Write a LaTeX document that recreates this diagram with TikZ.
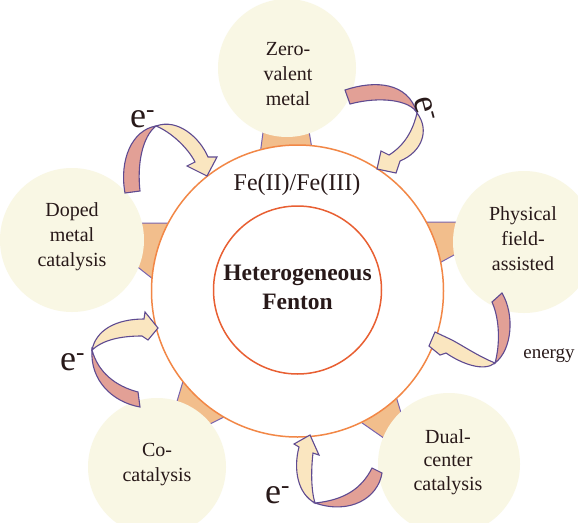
\documentclass[tikz,border=0pt]{standalone}
\usepackage{fontspec}
\setmainfont{Liberation Serif}
\definecolor{sat}{RGB}{249,247,228}
\definecolor{neck}{RGB}{242,190,140}
\definecolor{lav}{RGB}{120,100,175}
\definecolor{ring}{RGB}{242,135,70}
\definecolor{ringin}{RGB}{232,95,50}
\definecolor{apink}{RGB}{226,160,150}
\definecolor{ayel}{RGB}{250,230,192}
\definecolor{aline}{RGB}{95,75,145}
\definecolor{txt}{RGB}{40,25,25}
\begin{document}
\begin{tikzpicture}[x=1pt,y=-1pt,
 sattext/.style={align=center,text=txt,font=\fontsize{20}{25}\selectfont,inner sep=0},
 elabel/.style={text=txt,font=\fontsize{36}{36}\selectfont,inner sep=0,anchor=base west},
 necklines/.style={draw=lav,line width=1pt},
 satfill/.style={fill=sat},
 pinkpart/.style={fill=apink,draw=aline,line width=1.1pt},
 yelpart/.style={fill=ayel,draw=aline,line width=1.1pt}]
\useasboundingbox (0,0) rectangle (578,522);
\clip (0,0) rectangle (578,522);
\fill[white] (0,0) rectangle (578,522);

% necks
\fill[neck] (264,125) -- (308,125) -- (313,155) -- (260,155) -- cycle;
\draw[necklines] (264,125) -- (260,155) (308,125) -- (313,155);
\fill[neck] (135,223) -- (172,223) -- (158,283) -- (130,261) -- cycle;
\draw[necklines] (135,223) -- (172,223) (130,261) -- (158,283);
\fill[neck] (420,222) -- (462,222) -- (465,249) -- (432,267) -- cycle;
\draw[necklines] (420,222) -- (462,222) (432,267) -- (465,249);
\fill[neck] (184,378) -- (228,415) -- (206,426) -- (175,408) -- cycle;
\draw[necklines] (184,378) -- (175,408) (228,415) -- (206,426);
\fill[neck] (355,418) -- (395,393) -- (402,416) -- (388,441) -- cycle;
\draw[necklines] (355,418) -- (388,441) (395,393) -- (402,416);

% satellites
\fill[satfill] (287,68) circle[radius=69];
\fill[satfill] (72,240) circle[radius=72];
\fill[satfill] (524,242) circle[radius=71];
\fill[satfill] (157,467) circle[radius=69];
\fill[satfill] (449,464) circle[radius=71];

% rings
\draw[ring,line width=1.5pt,fill=white] (297.5,291) circle[radius=146];
\draw[ringin,line width=1.5pt] (297.5,290) circle[radius=84];

% texts
\node[sattext] (zero) at (288,74) {Zero-\\valent\\metal};
\node[sattext] (doped) at (72,237) {Doped\\metal\\catalysis};
\node[sattext] (phys) at (523,239) {Physical\\field-\\assisted};
\node[sattext] (co) at (157,465) {Co-\\catalysis};
\node[sattext,font=\fontsize{20}{23.5}\selectfont] (dual) at (448,462) {Dual-\\center\\catalysis};
\node[text=txt,font=\fontsize{24}{24}\selectfont,inner sep=0] (fe) at (297,185) {Fe(II)/Fe(III)};
\node[align=center,text=txt,font=\fontsize{23.5}{29}\bfseries\selectfont,inner sep=0] (het) at (297.5,287) {Heterogeneous\\Fenton};
\node[text=txt,font=\fontsize{19}{19}\selectfont,inner sep=0] (energy) at (549,356) {energy};

% arrow top-left
\filldraw[pinkpart] (125,193) .. controls (119,160) and (132,130) .. (156,126) .. controls (142,137) and (137,165) .. (140,191) -- cycle;
\filldraw[yelpart] (156,126) .. controls (178,118) and (200,138) .. (208,157) -- (217,157) -- (207,176) -- (187,166) -- (195,162) .. controls (188,148) and (171,132) .. (156,126) -- cycle;
% arrow top-right
\filldraw[pinkpart] (345,90) .. controls (375,80) and (408,82) .. (417,113) .. controls (410,100) and (380,96) .. (350,104) -- cycle;
\filldraw[yelpart] (417,113) .. controls (430,130) and (422,152) .. (400,161) -- (396,173) -- (377,169) -- (381,151) -- (389,155) .. controls (405,145) and (413,130) .. (417,113) -- cycle;
% arrow right
\filldraw[pinkpart] (492,302) -- (502,293) .. controls (515,315) and (512,350) .. (495,363) .. controls (500,345) and (500,320) .. (492,302) -- cycle;
\filldraw[yelpart] (495,363) .. controls (478,356) and (465,347) .. (452,340) -- (435,332) -- (429,346) -- (440,355) -- (446,353) .. controls (462,364) and (484,372) .. (495,363) -- cycle;
% arrow bottom
\filldraw[pinkpart] (372,468) -- (382,473) .. controls (378,498) and (350,515) .. (315,503) .. controls (345,500) and (362,488) .. (372,468) -- cycle;
\filldraw[yelpart] (315,503) .. controls (298,494) and (293,470) .. (299,447) -- (294,444) -- (310,435) -- (319,455) -- (313,453) .. controls (311,470) and (311,490) .. (315,503) -- cycle;
% arrow left
\filldraw[pinkpart] (140,407) .. controls (112,402) and (90,380) .. (92,350) .. controls (98,372) and (115,386) .. (138,392) -- cycle;
\filldraw[yelpart] (92,350) .. controls (96,330) and (116,319) .. (144,319) -- (145,312) -- (158,328) -- (148,340) -- (142,336) .. controls (120,336) and (103,340) .. (92,350) -- cycle;

% electron labels
\node[elabel] (e1) at (130,127) {e\textsuperscript{-}};
\node[elabel] (e3) at (60,370) {e\textsuperscript{-}};
\node[elabel] (e4) at (265,503) {e\textsuperscript{-}};
\node[text=txt,font=\fontsize{36}{36}\selectfont,inner sep=0,rotate=-75] (e2) at (425,109) {e\textsuperscript{-}};
\end{tikzpicture}
\end{document}
